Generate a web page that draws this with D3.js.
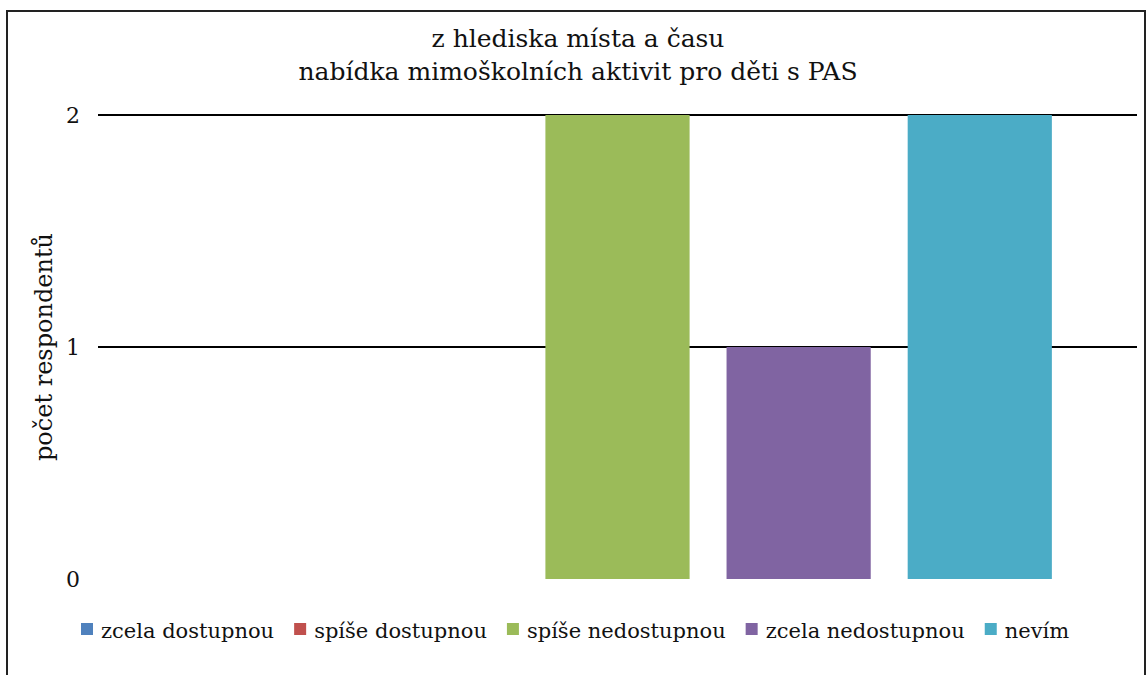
<!DOCTYPE html>
<html>
<head>
<meta charset="utf-8">
<script src="https://cdn.jsdelivr.net/npm/d3@7"></script>
<style>
  body { margin: 0; background: #fff; }
  svg text { font-family: "DejaVu Serif", serif; fill: #111; }
</style>
</head>
<body>
<div id="chart"></div>
<script>
var titleLines = ["z hlediska místa a času", "nabídka mimoškolních aktivit pro děti s PAS"];
var series = ["zcela dostupnou", "spíše dostupnou", "spíše nedostupnou", "zcela nedostupnou", "nevím"];
var values = [0, 0, 2, 1, 2];
var colors = ["#4F81BD", "#C0504D", "#9BBB59", "#8064A2", "#4BACC6"];
var yTicks = [0, 1, 2];
var yLabel = "počet respondentů";

var W = 1147, H = 675;
var plot = {left: 98, right: 1137, top: 115, bottom: 579};

var svg = d3.select("#chart").append("svg")
    .attr("width", W)
    .attr("height", H);

// outer frame
svg.append("rect")
    .attr("x", 7).attr("y", 11)
    .attr("width", 1138).attr("height", 700)
    .attr("fill", "none")
    .attr("stroke", "#222")
    .attr("stroke-width", 2);

var x = d3.scaleBand()
    .domain(series)
    .range([plot.left, plot.right])
    .paddingInner(0.204)
    .paddingOuter(0.47);

var y = d3.scaleLinear()
    .domain([0, 2])
    .range([plot.bottom, plot.top]);

// gridlines (no line at zero)
svg.selectAll(".grid")
    .data(yTicks.filter(function(d){ return d > 0; }))
  .enter().append("line")
    .attr("class", "grid")
    .attr("x1", plot.left).attr("x2", plot.right)
    .attr("y1", function(d){ return y(d); })
    .attr("y2", function(d){ return y(d); })
    .attr("stroke", "#000")
    .attr("stroke-width", 2);

// y axis labels
var yAxis = d3.axisLeft(y).tickValues(yTicks).tickSize(0).tickPadding(0).tickFormat(d3.format("d"));
var ya = svg.append("g")
    .attr("transform", "translate(80,0)")
    .call(yAxis);
ya.select(".domain").remove();
ya.selectAll("text")
    .style("font-family", "DejaVu Serif")
    .style("font-size", "22px")
    .attr("fill", "#111");

svg.append("text")
    .attr("transform", "translate(52," + (plot.top + plot.bottom) / 2 + ") rotate(-90)")
    .attr("text-anchor", "middle")
    .style("font-size", "24px")
    .text(yLabel);

// bars
svg.selectAll(".bar")
    .data(series)
  .enter().append("rect")
    .attr("class", "bar")
    .attr("x", function(d){ return x(d); })
    .attr("width", x.bandwidth())
    .attr("y", function(d, i){ return y(values[i]); })
    .attr("height", function(d, i){ return y(0) - y(values[i]); })
    .attr("fill", function(d, i){ return colors[i]; });

// title
svg.selectAll(".title")
    .data(titleLines)
  .enter().append("text")
    .attr("class", "title")
    .attr("x", 578)
    .attr("y", function(d, i){ return 47 + i * 33; })
    .attr("text-anchor", "middle")
    .style("font-size", "25px")
    .text(function(d){ return d; });

// legend
var legX = 81;
var leg = svg.append("g").attr("transform", "translate(0,638)");
series.forEach(function(s, i){
  leg.append("rect")
      .attr("x", legX).attr("y", -15)
      .attr("width", 12).attr("height", 12)
      .attr("fill", colors[i]);
  var t = leg.append("text")
      .attr("x", legX + 20).attr("y", 0)
      .style("font-size", "21px")
      .text(s);
  legX += 20 + t.node().getComputedTextLength() + 20;
});
</script>
</body>
</html>
